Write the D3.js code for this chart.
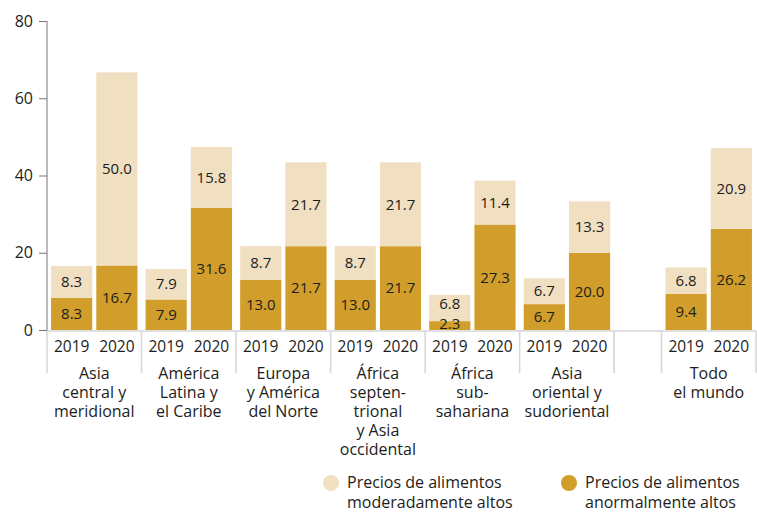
<!DOCTYPE html>
<html><head><meta charset="utf-8">
<script src="https://cdn.jsdelivr.net/npm/d3@7"></script>
<style>
body{margin:0;background:#fff;}
svg{display:block;font-family:"Open Sans",sans-serif;}
</style></head>
<body><svg id="c" width="757" height="513"></svg>
<script>
const categories = ["Asia central y meridional","América Latina y el Caribe","Europa y América del Norte","África septentrional y Asia occidental","África subsahariana","Asia oriental y sudoriental","Todo el mundo"];
const categoryLines = [["Asia","central y","meridional"],["América","Latina y","el Caribe"],["Europa","y América","del Norte"],["África","septen-","trional","y Asia","occidental"],["África","sub-","sahariana"],["Asia","oriental y","sudoriental"],["Todo","el mundo"]];
const years = ["2019","2020"];
const abnormal2019 = [8.3,7.9,13.0,13.0,2.3,6.7,9.4];
const abnormal2020 = [16.7,31.6,21.7,21.7,27.3,20.0,26.2];
const moderate2019 = [8.3,7.9,8.7,8.7,6.8,6.7,6.8];
const moderate2020 = [50.0,15.8,21.7,21.7,11.4,13.3,20.9];
const yTicks = [0,20,40,60,80];
const seriesNames = ["Precios de alimentos moderadamente altos","Precios de alimentos anormalmente altos"];
const legendLines = [["Precios de alimentos","moderadamente altos"],["Precios de alimentos","anormalmente altos"]];

const cLight = "#f0dfc1", cDark = "#d19e2b", txt = "#1d1d1b";
const svg = d3.select("#c");

// slot domain: two slots per category, one blank slot before the world group
const slots = [];
categories.forEach((c,i)=>{
  if(i===categories.length-1) slots.push("gap");
  years.forEach(y=>slots.push(c+"|"+y));
});
const x = d3.scaleBand().domain(slots).range([47,756]);
const groupW = 2*x.bandwidth();
const x1 = d3.scaleBand().domain(years).range([0,groupW]).paddingInner(0.09).paddingOuter(0.09);
const y = d3.scaleLinear().domain([0,80]).range([330,21]);

const data = [];
categories.forEach((c,i)=>{
  data.push({c,i,year:"2019",ab:abnormal2019[i],mod:moderate2019[i]});
  data.push({c,i,year:"2020",ab:abnormal2020[i],mod:moderate2020[i]});
});
const gx = d => x(d.c+"|2019");

// bars
const g = svg.append("g");
data.forEach(d=>{
  const bx = gx(d) + x1(d.year), bw = x1.bandwidth();
  g.append("rect").attr("x",bx).attr("width",bw)
    .attr("y",y(d.ab)).attr("height",y(0)-y(d.ab)).attr("fill",cDark);
  g.append("rect").attr("x",bx).attr("width",bw)
    .attr("y",y(d.ab+d.mod)).attr("height",y(d.ab)-y(d.ab+d.mod)).attr("fill",cLight);
  const yLow = Math.min((y(0)+y(d.ab))/2, y(0)-6);
  const yUp = Math.min((y(d.ab)+y(d.ab+d.mod))/2, yLow-20);
  g.append("text").attr("x",bx+bw/2).attr("y",yLow).attr("dy","0.35em")
    .attr("text-anchor","middle").attr("font-size",15).attr("fill",txt).text(d.ab.toFixed(1));
  g.append("text").attr("x",bx+bw/2).attr("y",yUp).attr("dy","0.35em")
    .attr("text-anchor","middle").attr("font-size",15).attr("fill",txt).text(d.mod.toFixed(1));
});

// y axis
const ya = svg.append("g").attr("transform","translate(47,0)")
  .call(d3.axisLeft(y).tickValues(yTicks).tickSize(8).tickPadding(6));
ya.select(".domain").attr("stroke","#777").attr("d","M0,"+y(80)+"V"+(y(0)+1));
ya.selectAll(".tick line").attr("stroke","#777");
ya.selectAll(".tick text").attr("font-size",16).attr("fill",txt).attr("font-family","Open Sans");

// x axis baseline and separators
const sep = svg.append("g").attr("stroke","#d6d6d6").attr("stroke-width",1.5);
sep.append("line").attr("x1",47).attr("x2",756).attr("y1",331).attr("y2",331);
const bounds = new Set();
categories.forEach(c=>{ bounds.add(x(c+"|2019")); bounds.add(x(c+"|2019")+groupW); });
bounds.add(x("gap"));
[...bounds].forEach(b=>{
  sep.append("line").attr("x1",b).attr("x2",b).attr("y1",331).attr("y2",373);
});

// year labels
data.forEach(d=>{
  svg.append("text").attr("x",gx(d)+x1(d.year)+x1.bandwidth()/2).attr("y",347).attr("dy","0.35em")
    .attr("text-anchor","middle").attr("font-size",15.5).attr("fill",txt).text(d.year);
});
// category labels
categories.forEach((c,i)=>{
  categoryLines[i].forEach((l,k)=>{
    svg.append("text").attr("text-anchor","middle").attr("font-size",16).attr("fill",txt)
      .attr("x",x(c+"|2019")+groupW/2).attr("y",373+k*19).attr("dy","0.35em").text(l);
  });
});

// legend
const legend = [{c:cLight,lines:legendLines[0],x:331},{c:cDark,lines:legendLines[1],x:569}];
legend.forEach(l=>{
  svg.append("circle").attr("cx",l.x).attr("cy",483).attr("r",8).attr("fill",l.c);
  l.lines.forEach((s,k)=>svg.append("text").attr("font-size",16).attr("fill",txt)
    .attr("x",l.x+16).attr("y",482+k*20).attr("dy","0.35em").text(s));
});
</script></body></html>
